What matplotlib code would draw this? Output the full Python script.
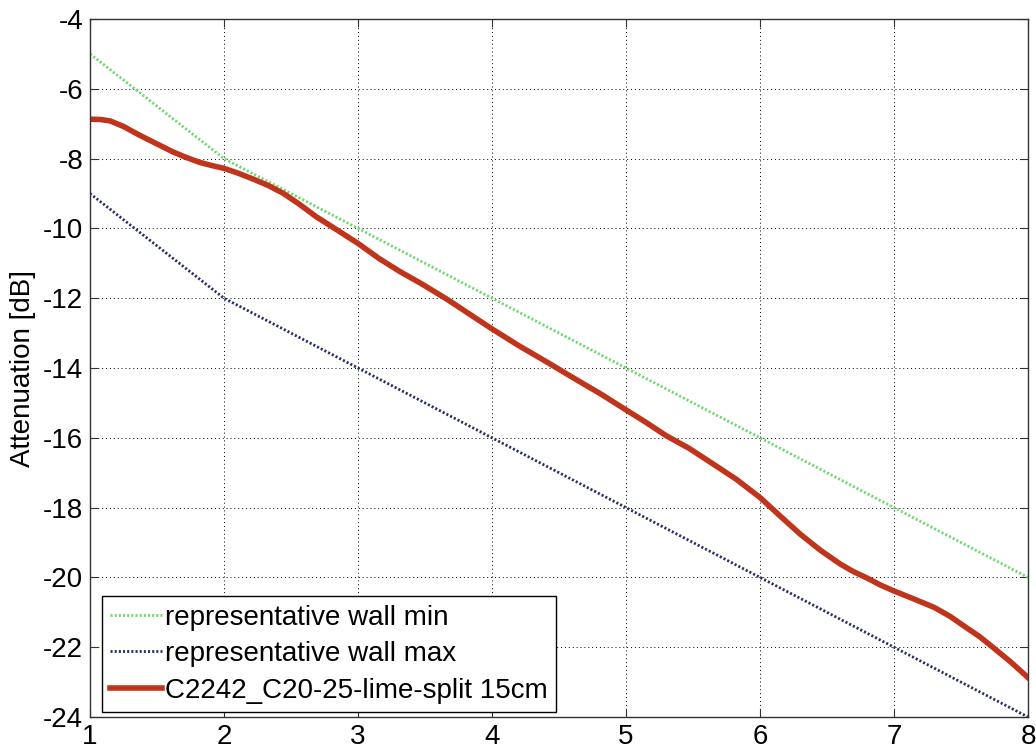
import numpy as np
import matplotlib
matplotlib.use('Agg')
import matplotlib.pyplot as plt

plt.rcParams['font.family'] = ['Liberation Sans', 'DejaVu Sans']
plt.rcParams['axes.unicode_minus'] = False

# representative walls (min / max)
wall_x = [1, 2, 3, 4, 5, 6, 7, 8]
wall_min = [-5, -8, -10, -12, -14, -16, -18, -20]
wall_max = [-9, -12, -14, -16, -18, -20, -22, -24]

meas_x = [1.0, 1.08, 1.15, 1.25, 1.37, 1.5, 1.62, 1.72, 1.82, 1.91, 2.0, 2.1,
          2.22, 2.33, 2.44, 2.56, 2.69, 2.85, 3.0, 3.16, 3.31, 3.48, 3.66, 3.83,
          4.0, 4.2, 4.41, 4.61, 4.81, 5.0, 5.15, 5.3, 5.47, 5.63, 5.82, 6.0,
          6.15, 6.3, 6.45, 6.6, 6.7, 6.8, 6.9, 7.0, 7.15, 7.3, 7.42, 7.54,
          7.64, 7.74, 7.87, 8.0]
meas_y = [-6.87, -6.88, -6.92, -7.08, -7.33, -7.58, -7.81, -7.97, -8.11, -8.2,
          -8.28, -8.41, -8.59, -8.77, -8.99, -9.3, -9.67, -10.06, -10.43, -10.87,
          -11.23, -11.6, -12.02, -12.45, -12.88, -13.36, -13.83, -14.29, -14.74,
          -15.2, -15.56, -15.94, -16.3, -16.70, -17.18, -17.71, -18.24, -18.76,
          -19.22, -19.62, -19.84, -20.02, -20.22, -20.39, -20.62, -20.86, -21.12,
          -21.44, -21.7, -22.01, -22.42, -22.87]

labels = ['representative wall min', 'representative wall max',
          'C2242_C20-25-lime-split 15cm']

fig = plt.figure(figsize=(10.36, 7.49), dpi=100)
ax = fig.add_axes([90/1036, 1 - 717/749, 938/1036, 698/749])

ax.plot(wall_x, wall_min, color='#6fd86f', lw=2.0, ls=(0, (0.75, 0.75)),
        dash_capstyle='butt', label=labels[0])
ax.plot(wall_x, wall_max, color='#262e62', lw=2.0, ls=(0, (0.75, 0.75)),
        dash_capstyle='butt', label=labels[1])
ax.plot(meas_x, meas_y, color='#c1341c', lw=4, solid_joinstyle='round',
        label=labels[2])

ax.set_xlim(1, 8)
ax.set_ylim(-24, -4)
ax.set_xticks(range(1, 9))
ax.set_yticks(range(-24, -3, 2))
ax.grid(True, color='black', ls=(0, (1, 3)), lw=0.7)
ax.tick_params(direction='in', top=True, right=True, length=6, width=0.8,
               labelsize=20, pad=5, colors='#333333', labelcolor='black')
for s in ax.spines.values():
    s.set_color('#333333')
    s.set_linewidth(1.0)

ax.set_ylabel('Attenuation [dB]', fontsize=20, labelpad=5)

leg = ax.legend(loc='lower left', bbox_to_anchor=(0.0128, 0.0072), borderaxespad=0,
                fontsize=20, fancybox=False, framealpha=1, edgecolor='black',
                handlelength=1.85, handletextpad=0.12, borderpad=0.3,
                labelspacing=0.38)
leg.get_frame().set_linewidth(1.0)

fig.savefig('out.png', dpi=100)
